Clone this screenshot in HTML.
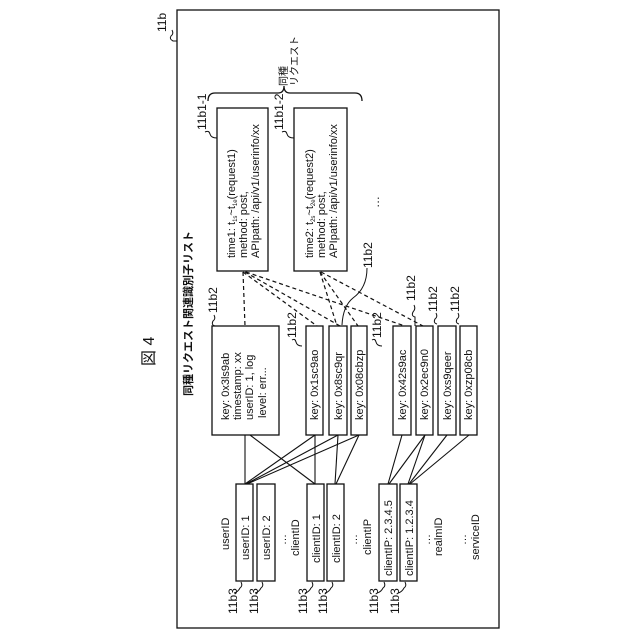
<!DOCTYPE html>
<html><head><meta charset="utf-8"><style>
html,body{margin:0;padding:0;background:#fff;}
svg{display:block;}
text{font-family:"Liberation Sans","Noto Sans CJK JP",sans-serif;fill:#111;}
</style></head><body>
<svg width="640" height="640" viewBox="0 0 640 640" xmlns="http://www.w3.org/2000/svg">
<g fill="none" stroke="#111" stroke-width="1.3">
<rect x="177" y="10" width="322" height="618"/>
<!-- brace -->
<path d="M208,101 Q208,93 215,93 L278,93 Q284,93 284,86 Q284,93 290,93 L355,93 Q362,93 362,101"/>
<!-- request boxes -->
<rect x="217" y="108" width="51" height="163"/>
<rect x="294" y="108" width="53" height="163"/>
<!-- big box + key boxes -->
<rect x="212" y="326" width="67" height="109"/>
<rect x="306" y="326" width="17" height="109"/>
<rect x="329" y="326" width="18" height="109"/>
<rect x="351" y="326" width="16" height="109"/>
<rect x="393" y="326" width="18" height="109"/>
<rect x="416" y="326" width="17" height="109"/>
<rect x="438" y="326" width="18" height="109"/>
<rect x="460" y="326" width="17" height="109"/>
<!-- attribute boxes -->
<rect x="236" y="484" width="17" height="97"/>
<rect x="257" y="484" width="18" height="97"/>
<rect x="307" y="484" width="17" height="97"/>
<rect x="327" y="484" width="17" height="97"/>
<rect x="379" y="484" width="18" height="97"/>
<rect x="400" y="484" width="17" height="97"/>
</g>
<!-- solid connectors -->
<g stroke="#111" stroke-width="1.1" fill="none">
<line x1="245" y1="435" x2="245" y2="484"/>
<line x1="250" y1="435" x2="315" y2="484"/>
<line x1="315" y1="435" x2="245" y2="484"/>
<line x1="315" y1="435" x2="315" y2="484"/>
<line x1="338" y1="435" x2="246" y2="484"/>
<line x1="338" y1="435" x2="335" y2="484"/>
<line x1="359" y1="435" x2="247" y2="484"/>
<line x1="359" y1="435" x2="336" y2="484"/>
<line x1="402" y1="435" x2="388" y2="484"/>
<line x1="425" y1="435" x2="389" y2="484"/>
<line x1="425" y1="435" x2="408" y2="484"/>
<line x1="447" y1="435" x2="409" y2="484"/>
<line x1="469" y1="435" x2="410" y2="484"/>
</g>
<!-- dashed connectors -->
<g stroke="#111" stroke-width="1.2" fill="none" stroke-dasharray="4,3">
<line x1="243" y1="272" x2="245" y2="326"/>
<line x1="243" y1="272" x2="317" y2="326"/>
<line x1="245" y1="272" x2="340" y2="326"/>
<line x1="246" y1="272" x2="405" y2="326"/>
<line x1="320" y1="272" x2="337" y2="326"/>
<line x1="320" y1="272" x2="358" y2="326"/>
<line x1="321" y1="272" x2="423" y2="326"/>
</g>
<!-- leaders -->
<g stroke="#111" stroke-width="1" fill="none">
<path d="M172,30 q2,4 -1,6 q-2,3 2,5 l4,0"/>
<path d="M205,132 q4,-2 5,2 q1,4 7,4"/>
<path d="M282,132 q4,-2 5,2 q1,4 7,4"/>
<path d="M214,315 q2,4 -1,6 q-2,4 2,5"/>
<path d="M292,340 q3,-2 4,2 q1,4 6,4"/>
<path d="M372,340 q3,-2 4,2 q1,4 6,4"/>
<path d="M367,268 q0,20 -14,30 q-10,8 -11,27"/>
<path d="M414,305 q2,4 -1,7 q-2,4 2,5 l0,9"/>
<path d="M436,313 q2,4 -1,6 q-2,4 2,5"/>
<path d="M458,313 q2,4 -1,6 q-2,4 2,5"/>
<path d="M241,582 q2,4 -1,6 q-2,4 -6,5"/>
<path d="M262,582 q2,4 -1,6 q-2,4 -6,5"/>
<path d="M312,582 q2,4 -1,6 q-2,4 -6,5"/>
<path d="M332,582 q2,4 -1,6 q-2,4 -6,5"/>
<path d="M384,582 q2,4 -1,6 q-2,4 -6,5"/>
<path d="M405,582 q2,4 -1,6 q-2,4 -6,5"/>
</g>
<!-- texts -->
<g font-size="11">
<text transform="translate(154,366) rotate(-90)" font-size="16">図 4</text>
<text transform="translate(192,396) rotate(-90)" font-weight="bold" font-size="11">同種リクエスト関連識別子リスト</text>
<text transform="translate(166,32) rotate(-90)" font-size="12">11b</text>
<text transform="translate(287,86) rotate(-90)" font-size="10">同種</text>
<text transform="translate(298,86) rotate(-90)" font-size="10">リクエスト</text>
<text transform="translate(206,130) rotate(-90)" font-size="12">11b1-1</text>
<text transform="translate(283,130) rotate(-90)" font-size="12">11b1-2</text>
<text transform="translate(235,258) rotate(-90)">time1: t<tspan font-size="6" dy="2">1s</tspan><tspan dy="-2">~t</tspan><tspan font-size="6" dy="2">1e</tspan><tspan dy="-2">(request1)</tspan></text>
<text transform="translate(247,258) rotate(-90)">method: post,</text>
<text transform="translate(259,258) rotate(-90)">APIpath: /api/v1/userinfo/xx</text>
<text transform="translate(313,258) rotate(-90)">time2: t<tspan font-size="6" dy="2">2s</tspan><tspan dy="-2">~t</tspan><tspan font-size="6" dy="2">2e</tspan><tspan dy="-2">(request2)</tspan></text>
<text transform="translate(325,258) rotate(-90)">method: post,</text>
<text transform="translate(337,258) rotate(-90)">APIpath: /api/v1/userinfo/xx</text>
<text transform="translate(379,208) rotate(-90)" font-size="12">…</text>
<text transform="translate(217,313) rotate(-90)" font-size="12">11b2</text>
<text transform="translate(372,268) rotate(-90)" font-size="12">11b2</text>
<text transform="translate(296,338) rotate(-90)" font-size="12">11b2</text>
<text transform="translate(381,338) rotate(-90)" font-size="12">11b2</text>
<text transform="translate(415,301) rotate(-90)" font-size="12">11b2</text>
<text transform="translate(437,312) rotate(-90)" font-size="12">11b2</text>
<text transform="translate(459,312) rotate(-90)" font-size="12">11b2</text>
<text transform="translate(229,420) rotate(-90)">key: 0x3ls9ab</text>
<text transform="translate(241,420) rotate(-90)">timestamp: xx</text>
<text transform="translate(253,420) rotate(-90)">userID: 1, log</text>
<text transform="translate(266,418) rotate(-90)">level: err...</text>
<text transform="translate(318,420) rotate(-90)">key: 0x1sc9ao</text>
<text transform="translate(342,420) rotate(-90)">key: 0x8sc9qr</text>
<text transform="translate(363,420) rotate(-90)">key: 0x08cbzp</text>
<text transform="translate(406,420) rotate(-90)">key: 0x42s9ac</text>
<text transform="translate(428,420) rotate(-90)">key: 0x2ec9n0</text>
<text transform="translate(451,420) rotate(-90)">key: 0xs9qeer</text>
<text transform="translate(472,420) rotate(-90)">key: 0xzp08cb</text>
<text transform="translate(229,550) rotate(-90)">userID</text>
<text transform="translate(249,560) rotate(-90)">userID: 1</text>
<text transform="translate(270,560) rotate(-90)">userID: 2</text>
<text transform="translate(286,545) rotate(-90)">…</text>
<text transform="translate(299,556) rotate(-90)">clientID</text>
<text transform="translate(320,563) rotate(-90)">clientID: 1</text>
<text transform="translate(340,563) rotate(-90)">clientID: 2</text>
<text transform="translate(357,545) rotate(-90)">…</text>
<text transform="translate(371,555) rotate(-90)">clientIP</text>
<text transform="translate(392,576) rotate(-90)">clientIP: 2.3.4.5</text>
<text transform="translate(413,576) rotate(-90)">clientIP: 1.2.3.4</text>
<text transform="translate(430,545) rotate(-90)">…</text>
<text transform="translate(442,556) rotate(-90)">realmID</text>
<text transform="translate(466,545) rotate(-90)">…</text>
<text transform="translate(479,560) rotate(-90)">serviceID</text>
<text transform="translate(237,614) rotate(-90)" font-size="12">11b3</text>
<text transform="translate(258,614) rotate(-90)" font-size="12">11b3</text>
<text transform="translate(307,614) rotate(-90)" font-size="12">11b3</text>
<text transform="translate(327,614) rotate(-90)" font-size="12">11b3</text>
<text transform="translate(378,614) rotate(-90)" font-size="12">11b3</text>
<text transform="translate(399,614) rotate(-90)" font-size="12">11b3</text>
</g>
</svg>
</body></html>
